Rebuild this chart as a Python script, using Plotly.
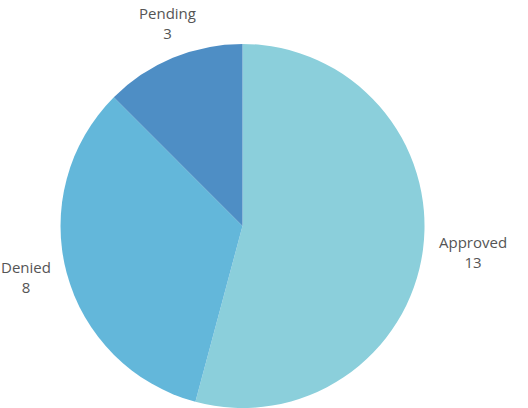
import math
import plotly.graph_objects as go

labels = ["Approved", "Denied", "Pending"]
values = [13, 8, 3]
colors = ["#8BCFDB", "#63B7DA", "#4E8EC5"]

W, H = 528, 408
# pie domain (paper fractions)
dom_x = [0.1146, 0.8040]
dom_y = [0.0, 0.8922]
label_gap = 14  # px between pie edge and label box

fig = go.Figure(go.Pie(
    labels=labels,
    values=values,
    sort=False,
    direction="clockwise",
    rotation=0,
    marker=dict(colors=colors, line=dict(width=0)),
    textinfo="none",
    hoverinfo="label+value",
    domain=dict(x=dom_x, y=dom_y),
    showlegend=False,
))

# outside labels placed along each slice's mid-angle (computed from the values)
cx = W * (dom_x[0] + dom_x[1]) / 2
cy = H * (1 - (dom_y[0] + dom_y[1]) / 2)
R = min(W * (dom_x[1] - dom_x[0]), H * (dom_y[1] - dom_y[0])) / 2
total = sum(values)
cum = 0
annotations = []
for lab, v in zip(labels, values):
    mid = (cum + v / 2) / total * 2 * math.pi
    cum += v
    s, c = math.sin(mid), math.cos(mid)
    px = cx + (R + label_gap) * s
    py = cy - (R + label_gap) * c
    xa = "left" if s > 0.5 else ("right" if s < -0.5 else "center")
    ya = "bottom" if c > 0.5 else ("top" if c < -0.5 else "middle")
    annotations.append(dict(
        x=px / W, y=1 - py / H, xref="paper", yref="paper",
        xanchor=xa, yanchor=ya, showarrow=False, align="center",
        text=f"{lab}<br>{v}",
        font=dict(family="Open Sans", size=15, color="#555555"),
    ))

fig.update_layout(
    width=W, height=H,
    margin=dict(l=0, r=0, t=0, b=0),
    paper_bgcolor="white",
    plot_bgcolor="white",
    annotations=annotations,
)

fig.write_html(
    "out.html",
    config={"displayModeBar": False},
    post_script="document.body.style.margin='0';",
)
